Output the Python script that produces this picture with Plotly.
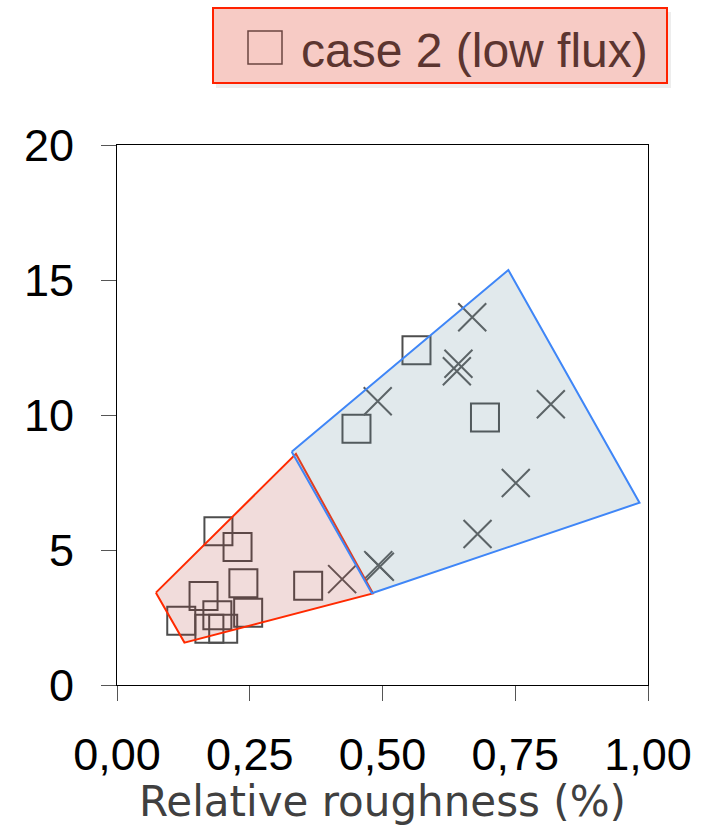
import plotly.graph_objects as go

# ---------------- data ----------------
case2_x = [0.191, 0.227, 0.238, 0.163, 0.360, 0.247, 0.189, 0.121, 0.200, 0.174, 0.564, 0.451, 0.693]
case2_y = [5.69, 5.11, 3.77, 3.30, 3.68, 2.68, 2.58, 2.38, 2.08, 2.08, 12.40, 9.49, 9.91]

case1_x = [0.669, 0.643, 0.640, 0.491, 0.817, 0.751, 0.679, 0.492, 0.495, 0.424]
case1_y = [13.62, 11.90, 11.62, 10.51, 10.40, 7.48, 5.59, 4.44, 4.38, 3.92]

red_poly_x = [0.0733, 0.127, 0.482, 0.337]
red_poly_y = [3.42, 1.57, 3.39, 8.56]

blue_poly_x = [0.329, 0.737, 0.984, 0.480]
blue_poly_y = [8.64, 15.37, 6.75, 3.40]

x_ticks = [0, 0.25, 0.5, 0.75, 1.0]
x_ticktext = ["0,00", "0,25", "0,50", "0,75", "1,00"]
y_ticks = [0, 5, 10, 15, 20]

x_title = "Relative roughness (%)"
legend_label = "case 2 (low flux)"

# ---------------- figure ----------------
W, H = 709, 826
L, R, T, B = 117, 61, 145, 141

fig = go.Figure()

fig.add_trace(go.Scatter(
    x=case2_x, y=case2_y, mode="markers",
    marker=dict(symbol="square-open", size=28, color="#4d4d4d", line=dict(width=2, color="#4d4d4d")),
    showlegend=False, hoverinfo="skip"))
fig.add_trace(go.Scatter(
    x=case1_x, y=case1_y, mode="markers",
    marker=dict(symbol="x-thin-open", size=28, color="#595959", line=dict(width=2, color="#595959")),
    showlegend=False, hoverinfo="skip"))

fig.add_trace(go.Scatter(
    x=red_poly_x + red_poly_x[:1], y=red_poly_y + red_poly_y[:1], mode="lines",
    fill="toself", fillcolor="rgba(170,50,40,0.17)",
    line=dict(color="#ff2a00", width=2), showlegend=False, hoverinfo="skip"))
fig.add_trace(go.Scatter(
    x=blue_poly_x + blue_poly_x[:1], y=blue_poly_y + blue_poly_y[:1], mode="lines",
    fill="toself", fillcolor="rgba(105,145,160,0.20)",
    line=dict(color="#3f86f7", width=2), showlegend=False, hoverinfo="skip"))

pw = W - L - R
ph = H - T - B


def px_x(p):
    return (p - L) / pw


def px_y(p):
    return (H - B - p) / ph


shapes = [
    # legend shadow
    dict(type="rect", xref="paper", yref="paper",
         x0=px_x(216), x1=px_x(671), y0=px_y(12), y1=px_y(88),
         fillcolor="rgba(0,0,0,0.07)", line=dict(width=0), layer="below"),
    # legend box
    dict(type="rect", xref="paper", yref="paper",
         x0=px_x(213), x1=px_x(667), y0=px_y(8), y1=px_y(83),
         fillcolor="#f7cbc5", line=dict(color="#ff2200", width=2)),
    # legend square icon
    dict(type="rect", xref="paper", yref="paper",
         x0=px_x(248), x1=px_x(282), y0=px_y(31), y1=px_y(64),
         fillcolor="rgba(0,0,0,0)", line=dict(color="#6b4540", width=1.5)),
]

annotations = [
    dict(text=legend_label, xref="paper", yref="paper",
         x=px_x(299), y=px_y(50), xanchor="left", yanchor="middle",
         showarrow=False, font=dict(family="Liberation Sans", size=48, color="#5c3530")),
]

fig.update_layout(
    width=W, height=H,
    margin=dict(l=L, r=R, t=T, b=B),
    plot_bgcolor="white", paper_bgcolor="white",
    shapes=shapes, annotations=annotations,
    xaxis=dict(
        range=[0, 1], tickvals=x_ticks, ticktext=x_ticktext,
        showgrid=False, zeroline=False,
        showline=True, linecolor="black", linewidth=1, mirror=True,
        ticks="outside", ticklen=15, tickcolor="#555555", tickwidth=1,
        ticklabelstandoff=15,
        tickfont=dict(family="Liberation Sans", size=45, color="black"),
        title=dict(text=x_title, standoff=4,
                   font=dict(family="DejaVu Sans", size=42, color="#404040")),
    ),
    yaxis=dict(
        range=[0, 20], tickvals=y_ticks,
        showgrid=False, zeroline=False,
        showline=True, linecolor="black", linewidth=1, mirror=True,
        ticks="outside", ticklen=15, tickcolor="#555555", tickwidth=1,
        ticklabelstandoff=18,
        tickfont=dict(family="Liberation Sans", size=45, color="black"),
    ),
)

fig.write_html("out.html")
